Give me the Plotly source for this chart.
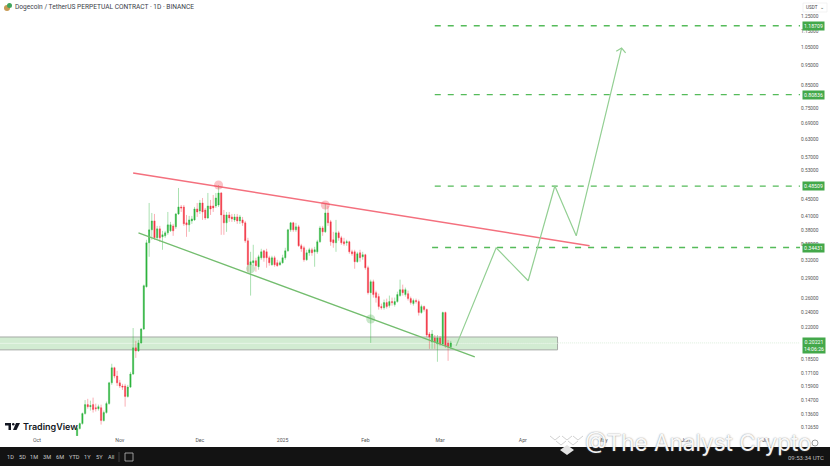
import math
import pandas as pd
import plotly.graph_objects as go

# daily candles
first_day = "2024-10-16"
opens = [.1205,.1254,.1289,.1363,.1433,.1417,.1433,.1409,.1401,.1409,.1311,.1371,.1441,.1618,.176,.168,.1618,.159,.159,.150,.158,.170,.1967,.1934,.2022,.2185,.2768,.3535,.38,.3995,.3635,.3821,.3655,.3675,.3737,.3779,.3885,.3864,.4153,.4318,.4318,.3951,.3907,.3995,.4017,.427,.4222,.4415,.4246,.4061,.4342,.4342,.4342,.4366,.4668,.413,.3951,.413,.4084,.4017,.4084,.3995,.4017,.3951,.3575,.3128,.3163,.3198,.3093,.3252,.3381,.3362,.3252,.3128,.3252,.3163,.3128,.3163,.3252,.3381,.38,.3951,.38,.3864,.3477,.3438,.3216,.3344,.34,.3362,.3362,.3555,.3842,.3758,.4176,.3973,.3595,.3535,.3737,.3635,.3555,.3535,.3555,.3362,.3362,.3181,.3344,.327,.3307,.3076,.2677,.2846,.2677,.2618,.2476,.2462,.2532,.249,.2546,.2504,.2546,.2633,.2722,.2648,.2662,.2589,.2518,.2561,.2546,.2395,.2476,.2435,.2125,.2033,.2079,.2011,.2079,.2011,.2395,.2022,.1978]
highs = [.1268,.1296,.1371,.147,.148,.1465,.149,.1441,.1433,.1433,.1386,.1457,.1627,.18,.177,.173,.1645,.1609,.1609,.16,.172,.2197,.2045,.2056,.2197,.2799,.3595,.4415,.4176,.4153,.3885,.3885,.3779,.3779,.4199,.3973,.3929,.4176,.48,.4366,.4366,.413,.4107,.4107,.4318,.4415,.449,.454,.4294,.4668,.449,.4616,.4668,.488,.4694,.4246,.4199,.4199,.4153,.4153,.4153,.413,.4084,.3995,.3635,.3362,.3496,.3252,.3307,.3419,.34,.3419,.3288,.3288,.3288,.3216,.3198,.3307,.3438,.3821,.3973,.3973,.3951,.3907,.3515,.3477,.34,.3438,.3438,.3457,.3595,.3885,.3885,.4415,.4342,.4017,.3758,.4017,.3779,.3675,.3635,.3595,.3575,.34,.34,.3362,.34,.3362,.3325,.3111,.2878,.2878,.2707,.2662,.2518,.2575,.2589,.2633,.2604,.2604,.2692,.2878,.2799,.2753,.2707,.2618,.2589,.2589,.2575,.2504,.249,.2449,.2149,.2173,.2113,.2113,.2102,.2408,.2408,.2056,.2045]
lows = [.1192,.1247,.1282,.1356,.1401,.1386,.1371,.1379,.1386,.1282,.1304,.1363,.1433,.16,.166,.159,.1572,.1555,.1417,.149,.1572,.169,.186,.1924,.2011,.2173,.2753,.327,.3595,.3595,.3595,.3555,.34,.3635,.3696,.3758,.3675,.3821,.413,.4199,.3885,.3655,.3758,.3929,.3995,.4084,.4153,.4017,.4017,.4039,.413,.4199,.4294,.4318,.3696,.3696,.3758,.3973,.3973,.3973,.3929,.3929,.3885,.3535,.3009,.2633,.3111,.3009,.3042,.3216,.3181,.3076,.3111,.3111,.3093,.3093,.3111,.3145,.3216,.3362,.3758,.3758,.3758,.3457,.3362,.3181,.3198,.3288,.3288,.3093,.3325,.3535,.3675,.3737,.3885,.3477,.3438,.3362,.3575,.3496,.3477,.3477,.3325,.3288,.3059,.3163,.3181,.3216,.3042,.2648,.2022,.2604,.2532,.2435,.2435,.2435,.2449,.2462,.249,.2476,.2532,.2618,.2633,.2618,.2561,.2504,.249,.2518,.2355,.2381,.2408,.209,.1956,.1956,.1956,.182,.1989,.1989,.1967,.183,.1956]
closes = [.1254,.1289,.1363,.1433,.1417,.1425,.1394,.1401,.1417,.1311,.1371,.1441,.1618,.176,.168,.1618,.159,.158,.150,.158,.170,.1967,.1934,.2022,.2185,.2783,.3535,.38,.3995,.3635,.3821,.3635,.3696,.3737,.3907,.3907,.3779,.4153,.4318,.4294,.3929,.3907,.4017,.4039,.427,.4199,.4415,.4199,.4061,.4342,.427,.4294,.454,.4668,.413,.3951,.413,.4061,.4039,.4084,.3995,.4084,.3951,.3575,.3128,.3181,.3198,.3111,.327,.3362,.3252,.3252,.3163,.3252,.3128,.3111,.3163,.3252,.3381,.38,.3951,.38,.3864,.3477,.3419,.3216,.3344,.34,.3344,.34,.3555,.3842,.3758,.4176,.3951,.3555,.3535,.3737,.3635,.3535,.3515,.3555,.3362,.3325,.3181,.3325,.3252,.3307,.3076,.2677,.2846,.2648,.2604,.2476,.2462,.2532,.2476,.2546,.2532,.2546,.2648,.2722,.2677,.2722,.2589,.2532,.2561,.2546,.2395,.2476,.2435,.2113,.209,.2125,.2033,.2079,.2011,.2395,.1989,.1978,.2022]

# drawings on the chart
red_line_x = ["2024-11-06", "2025-04-26"]
red_line_y = [.522, .3477]
green_line_x = ["2024-11-08", "2025-03-14"]
green_line_y = [.3737, .187]
path_x = ["2025-03-07", "2025-03-22", "2025-04-03", "2025-04-13", "2025-04-21", "2025-05-08"]
path_y = [.1989, .3438, .286, .4853, .3675, 1.048]
arrow_x = ["2025-05-06", "2025-05-08", "2025-05-09 12:00"]
arrow_y = [1.03, 1.048, 1.02]
touch_x = ["2024-12-08", "2025-01-17", "2024-12-20", "2025-02-03"]
touch_y = [.488, .4366, .3059, .231]
touch_colors = ["rgba(242,54,69,.3)", "rgba(242,54,69,.3)", "rgba(76,175,80,.3)", "rgba(76,175,80,.3)"]
zone_x = ["2024-09-01", "2025-04-14"]
zone_y = [.1945, .209]

levels = [1.18709, .80836, .48509, .34431]
level_starts = ["2025-02-27", "2025-02-27", "2025-02-27", "2025-02-26"]
last_price = .20221

price_ticks = [1.25, 1.15, 1.05, .95, .85, .75, .69, .63, .57, .53, .45, .41, .38, .35, .32,
               .29, .26, .24, .22, .185, .171, .159, .147, .136, .1265]
time_ticks = ["2024-10-01", "2024-11-01", "2024-12-01", "2025-01-01", "2025-02-01", "2025-03-01",
              "2025-04-01", "2025-05-01", "2025-06-01", "2025-07-01"]
time_labels = ["Oct", "Nov", "Dec", "2025", "Feb", "Mar", "Apr", "May", "Jun", "Jul"]
ranges = ["1D", "5D", "1M", "3M", "6M", "YTD", "1Y", "5Y", "All"]
range_px = [10, 22, 34, 47, 60, 74, 87.5, 99, 111]

x_end = "2025-07-13 20:00"
FONT = "Roboto"
UP = "#2eb33e"
DOWN = "#f23645"


def px(x):
    return x / 800


def py(y):
    return (436 - y) / 436


days = pd.date_range(first_day, periods=len(opens))

fig = go.Figure()

fig.add_trace(go.Candlestick(
    x=days, open=opens, high=highs, low=lows, close=closes,
    increasing=dict(line=dict(color="rgba(46,179,62,.4)", width=1), fillcolor=UP),
    decreasing=dict(line=dict(color="rgba(242,54,69,.4)", width=1), fillcolor=DOWN),
    whiskerwidth=0,
))

for level, start in zip(levels, level_starts):
    fig.add_trace(go.Scatter(x=[start, x_end], y=[level, level], mode="lines",
                             line=dict(color="#55bb5a", width=1.4, dash="6px,7px")))

fig.add_trace(go.Scatter(x=["2025-03-07", x_end], y=[last_price, last_price], mode="lines",
                         line=dict(color="#cfe8cf", width=0.7, dash="1px,1px")))
fig.add_trace(go.Scatter(x=red_line_x, y=red_line_y, mode="lines", line=dict(color="#f4707e", width=1.4)))
fig.add_trace(go.Scatter(x=green_line_x, y=green_line_y, mode="lines", line=dict(color="#73bd6e", width=1.3)))
fig.add_trace(go.Scatter(x=path_x, y=path_y, mode="lines", line=dict(color="#93cf93", width=1.2)))
fig.add_trace(go.Scatter(x=arrow_x, y=arrow_y, mode="lines", line=dict(color="#93cf93", width=1.2)))
fig.add_trace(go.Scatter(x=touch_x, y=touch_y, mode="markers",
                         marker=dict(size=9, color=touch_colors, line=dict(width=0))))

# demand zone under the candles
fig.add_shape(type="rect", x0=zone_x[0], x1=zone_x[1], y0=zone_y[0], y1=zone_y[1], layer="below",
              fillcolor="#d2ecd2", line=dict(color="#a5aaa5", width=1))
fig.add_shape(type="line", x0=zone_x[0], x1=zone_x[1], y0=.2017, y1=.2017, layer="below",
              line=dict(color="#e6f5e6", width=1))

# bottom toolbar
fig.add_shape(type="rect", xref="paper", yref="paper", x0=px(0), x1=px(830), y0=py(466), y1=py(447),
              fillcolor="#131313", line=dict(width=0))
fig.add_shape(type="line", xref="paper", yref="paper", x0=px(119), x1=px(119), y0=py(462), y1=py(452),
              line=dict(color="#555555", width=0.7))
fig.add_shape(type="rect", xref="paper", yref="paper", x0=px(125), x1=px(133), y0=py(461), y1=py(453),
              line=dict(color="#bbbbbb", width=0.8))

# USDT box
fig.add_shape(type="rect", xref="paper", yref="paper", x0=px(803), x1=px(827), y0=py(12), y1=py(3),
              fillcolor="white", line=dict(color="#eeeeee", width=0.7))

# doge icon
fig.add_shape(type="circle", xref="paper", yref="paper", x0=px(4), x1=px(10), y0=py(11), y1=py(5),
              fillcolor="#c79a55", line=dict(width=0))
fig.add_shape(type="circle", xref="paper", yref="paper", x0=px(7), x1=px(12), y0=py(8), y1=py(3),
              fillcolor="#3fa45b", line=dict(width=0))

# TradingView logo
fig.add_shape(type="path", xref="paper", yref="paper", fillcolor="#131722", line=dict(width=0),
              path=f"M {px(5)} {py(423)} L {px(11)} {py(423)} L {px(11)} {py(430)} L {px(8.5)} {py(430)} "
                   f"L {px(8.5)} {py(425.5)} L {px(5)} {py(425.5)} Z")
fig.add_shape(type="circle", xref="paper", yref="paper", fillcolor="#131722", line=dict(width=0),
              x0=px(12), x1=px(14.5), y0=py(425.5), y1=py(423))
fig.add_shape(type="path", xref="paper", yref="paper", fillcolor="#131722", line=dict(width=0),
              path=f"M {px(16)} {py(423)} L {px(20)} {py(423)} L {px(16.5)} {py(430)} L {px(13)} {py(430)} Z")

# watermark chevrons
for cx, top in [(555, 436), (567, 436), (578, 436), (561, 441), (573, 441)]:
    fig.add_shape(type="path", xref="paper", yref="paper", line=dict(color="#d2d2d2", width=1),
                  path=f"M {px(cx - 5)} {py(top)} L {px(cx)} {py(top + 4)} L {px(cx + 5)} {py(top)}")
fig.add_shape(type="path", xref="paper", yref="paper", fillcolor="#e4e4e4", line=dict(width=0),
              path=f"M {px(560)} {py(450)} L {px(567)} {py(445)} L {px(574)} {py(450)} L {px(567)} {py(455)} Z")

# autoscale button next to the time axis
fig.add_shape(type="circle", xref="paper", yref="paper", x0=px(812), x1=px(818), y0=py(446), y1=py(440),
              line=dict(color="#777777", width=0.7))


def note(text, x, y, size, color, anchor="center", **kw):
    fig.add_annotation(text=text, xref="paper", yref="paper", x=px(x), y=py(y), showarrow=False,
                       xanchor=anchor, yanchor="middle",
                       font=dict(family=kw.pop("family", FONT), size=size, color=color,
                                 **kw.pop("font", {})), **kw)


note("Dogecoin / TetherUS PERPETUAL CONTRACT · 1D · BINANCE", 13, 7, 6.6, "#3a3e4a", anchor="left")
note("USDT  ⌄", 815, 7.5, 4.6, "#444444")
note("TradingView", 21, 426.5, 9, "#131722", anchor="left", family="Inter", font=dict(weight=600))
for label, x in zip(ranges, range_px):
    note(label, x, 457, 5.6, "#c8c8c8")
note("09:53:34 UTC", 826, 457, 6, "#bdbdbd", anchor="right")

# price labels
for level in levels:
    fig.add_annotation(text=f"{level:.5f}", xref="paper", yref="y", x=px(801.5), y=math.log10(level),
                       xanchor="left", yanchor="middle", showarrow=False, bgcolor="#43a84a", borderpad=1,
                       font=dict(family=FONT, size=5.2, color="white"))
fig.add_annotation(text=f"{last_price:.5f}<br>14:06:26", xref="paper", yref="y", x=px(801.5),
                   y=math.log10(last_price) - .0073, xanchor="left", yanchor="middle", showarrow=False,
                   bgcolor="#43a84a", borderpad=1, align="center",
                   font=dict(family=FONT, size=5.2, color="white"))

note("@The Analyst Crypto", 698, 442, 22.5, "rgba(255,255,255,.95)", family="Inter",
     font=dict(shadow="0px 0px 1.5px #777777"))

fig.update_layout(
    width=830, height=466,
    autosize=False,
    margin=dict(l=0, r=30, t=0, b=30),
    paper_bgcolor="white",
    plot_bgcolor="white",
    showlegend=False,
    xaxis=dict(
        type="date",
        range=["2024-09-17 03:00", x_end],
        rangeslider=dict(visible=False),
        showgrid=False,
        zeroline=False,
        showline=False,
        tickmode="array",
        tickvals=time_ticks,
        ticktext=time_labels,
        ticks="",
        tickfont=dict(family=FONT, size=5.2, color="#555555"),
    ),
    yaxis=dict(
        type="log",
        side="right",
        range=[-.9198, .1368],
        showgrid=False,
        zeroline=False,
        showline=False,
        tickmode="array",
        tickvals=price_ticks,
        ticktext=[f"{v:.5f}" for v in price_ticks],
        ticks="",
        tickfont=dict(family=FONT, size=4.8, color="#555555"),
    ),
)

# the page has a default body margin, drop it so the figure fills the window
fig.write_html("out.html", config=dict(displayModeBar=False),
               post_script="document.body.style.margin='0';")
